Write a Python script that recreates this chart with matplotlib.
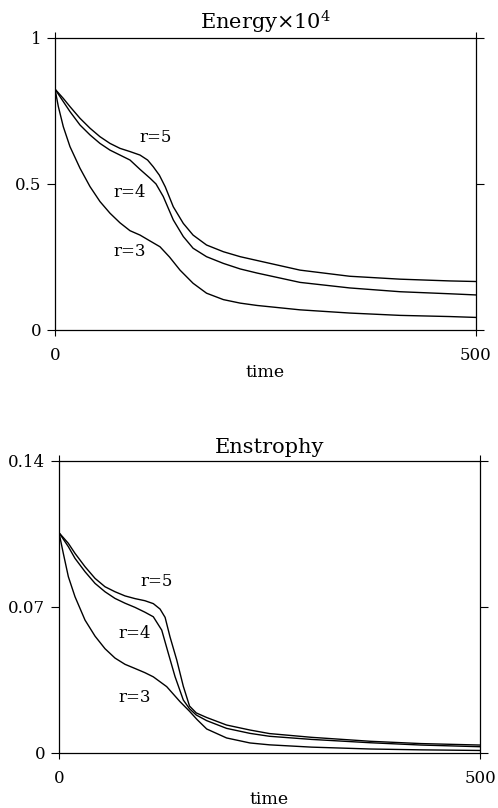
import matplotlib
matplotlib.use("Agg")
import matplotlib.pyplot as plt

# Energy x 10^4 (top panel)
t_e5 = [0, 9.9, 17.8, 29.7, 41.6, 53.4, 65.3, 77.2, 89.1, 101, 110, 116.7, 124, 131, 140.5,
        152.4, 164, 180, 200, 220, 240, 291, 350, 410, 469, 500]
e5 = [0.825, 0.793, 0.765, 0.725, 0.691, 0.662, 0.639, 0.622, 0.611, 0.599, 0.582, 0.559, 0.53, 0.49, 0.422,
      0.365, 0.325, 0.291, 0.268, 0.251, 0.238, 0.205, 0.184, 0.174, 0.168, 0.166]
t_e4 = [0, 9.9, 17.8, 29.7, 41.6, 53.4, 65.3, 77.2, 89.1, 101, 112.8, 120, 128.6, 140.5,
        152.4, 164, 180, 200, 220, 240, 291, 350, 410, 469, 500]
e4 = [0.825, 0.782, 0.748, 0.702, 0.668, 0.639, 0.616, 0.599, 0.582, 0.55, 0.52, 0.50, 0.457, 0.377,
      0.320, 0.280, 0.251, 0.228, 0.209, 0.195, 0.163, 0.144, 0.131, 0.124, 0.120]
t_e3 = [0, 4, 9.9, 17.8, 29.7, 41.6, 53.4, 65.3, 77.2, 89.1, 101, 112.8, 124.7, 136, 148.5,
        164, 180, 200, 220, 240, 291, 350, 410, 469, 500]
e3 = [0.825, 0.765, 0.696, 0.628, 0.554, 0.491, 0.440, 0.400, 0.367, 0.340, 0.325, 0.305, 0.285, 0.25, 0.205,
      0.160, 0.126, 0.104, 0.092, 0.084, 0.069, 0.058, 0.050, 0.046, 0.043]

# Enstrophy (bottom panel)
t_s5 = [0, 11.1, 19, 30.9, 42.8, 54.6, 66.5, 78.4, 90.3, 102, 112, 120, 126, 131.8, 139.8,
        147.6, 155, 163, 175.4, 199, 226.8, 250, 300, 370, 430, 500]
s5 = [0.1056, 0.1005, 0.0957, 0.0893, 0.0837, 0.0797, 0.0773, 0.0753, 0.0740, 0.0730, 0.0716, 0.069, 0.065, 0.0557, 0.0446,
      0.032, 0.0225, 0.0192, 0.0170, 0.0134, 0.0110, 0.0093, 0.0075, 0.0056, 0.0045, 0.0038]
t_s4 = [0, 11.1, 19, 30.9, 42.8, 54.6, 66.5, 78.4, 90.3, 102, 112, 122, 129.8, 137.8,
        147.6, 155, 163, 175.4, 199, 226.8, 250, 300, 370, 430, 500]
s4 = [0.1056, 0.0989, 0.0933, 0.0869, 0.0813, 0.0773, 0.0741, 0.0718, 0.0698, 0.0675, 0.0653, 0.0589, 0.0478, 0.0366,
      0.0254, 0.0212, 0.0182, 0.0155, 0.0118, 0.0094, 0.0080, 0.0065, 0.0049, 0.0038, 0.0030]
t_s3 = [0, 5.1, 11.1, 19, 30.9, 42.8, 54.6, 66.5, 78.4, 90.3, 102, 112, 127.9, 143.7,
        155, 164, 175.4, 199, 226.8, 250, 300, 370, 430, 500]
s3 = [0.1056, 0.0957, 0.0845, 0.0749, 0.0637, 0.0560, 0.0500, 0.0455, 0.0425, 0.0405, 0.0385, 0.0365, 0.0318, 0.0246,
      0.0200, 0.0160, 0.0115, 0.0072, 0.0048, 0.0039, 0.0028, 0.0019, 0.0015, 0.0012]

plt.rcParams['font.family'] = ['DejaVu Serif']
plt.rcParams['mathtext.fontset'] = 'dejavuserif'

fig = plt.figure(figsize=(4.98, 8.08), dpi=100)
ax1 = fig.add_axes([0.1104, 0.5916, 0.8454, 0.3614])
ax2 = fig.add_axes([0.1185, 0.0681, 0.8454, 0.3614])


def setup(ax, title, yticks, ylabels, ymax):
    ax.set_xlim(0, 500)
    ax.set_ylim(0, ymax)
    ax.set_xticks([0, 500])
    ax.set_xticklabels(['0', '500'])
    ax.set_yticks(yticks)
    ax.set_yticklabels(ylabels)
    ax.tick_params(direction='out', width=0.8, labelsize=12,
                   left=True, right=True, top=True, bottom=True,
                   labelright=False, labeltop=False)
    ax.tick_params(axis='x', length=4, pad=8)
    ax.tick_params(axis='y', length=6, pad=4)
    for s in ax.spines.values():
        s.set_linewidth(0.9)
    ax.set_title(title, fontsize=15, pad=6)


for t, v in [(t_e5, e5), (t_e4, e4), (t_e3, e3)]:
    ax1.plot(t, v, color='black', lw=1.0)
setup(ax1, r'Energy$\times10^4$', [0, 0.5, 1], ['0', '0.5', '1'], 1)
ax1.set_xlabel('time', fontsize=12.5, labelpad=0)
ax1.text(119, 0.66, 'r=5', ha='center', va='center', fontsize=12)
ax1.text(89, 0.47, 'r=4', ha='center', va='center', fontsize=12)
ax1.text(89, 0.27, 'r=3', ha='center', va='center', fontsize=12)

for t, v in [(t_s5, s5), (t_s4, s4), (t_s3, s3)]:
    ax2.plot(t, v, color='black', lw=1.0)
setup(ax2, 'Enstrophy', [0, 0.07, 0.14], ['0', '0.07', '0.14'], 0.14)
ax2.set_xlabel('time', fontsize=12.5, labelpad=3)
ax2.text(116, 0.082, 'r=5', ha='center', va='center', fontsize=12)
ax2.text(90, 0.0575, 'r=4', ha='center', va='center', fontsize=12)
ax2.text(90, 0.0268, 'r=3', ha='center', va='center', fontsize=12)

fig.savefig('out.png', dpi=100)
